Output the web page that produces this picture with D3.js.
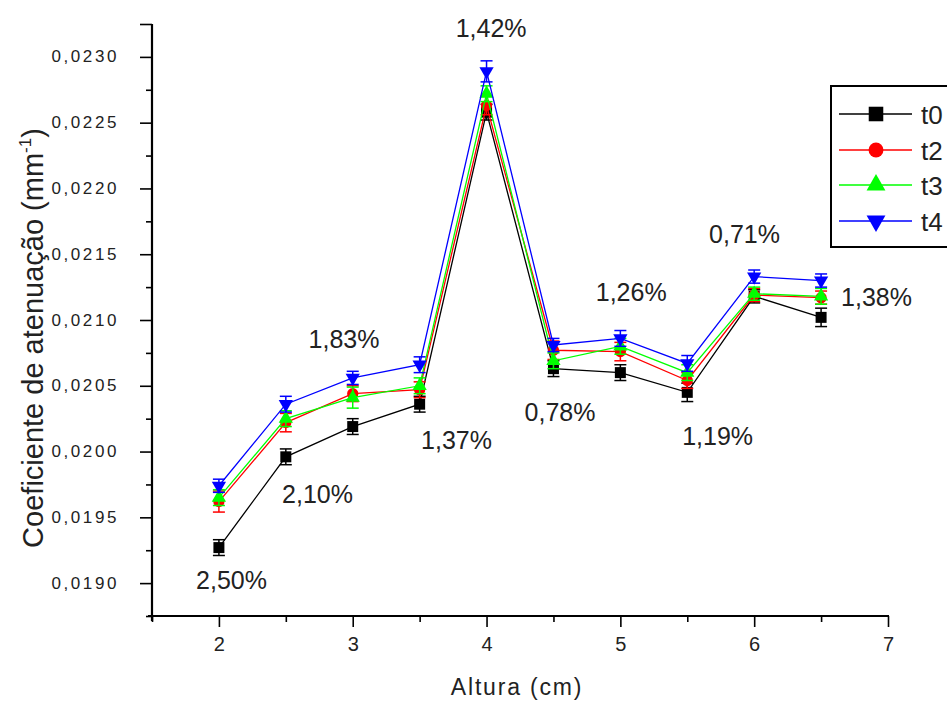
<!DOCTYPE html>
<html>
<head>
<meta charset="utf-8">
<script src="https://cdn.jsdelivr.net/npm/d3@7"></script>
<style>
  html, body { margin: 0; padding: 0; background: #fff; }
  svg { display: block; }
</style>
</head>
<body>
<svg id="chart" width="947" height="705"></svg>
<script>
// ---------- data ----------
const alturas = [2, 2.5, 3, 3.5, 4, 4.5, 5, 5.5, 6, 6.5];
const seriesNames = ["t0", "t2", "t3", "t4"];
const t0 = [0.01927, 0.01996, 0.02019, 0.02036, 0.02258, 0.02063, 0.02060, 0.02045, 0.02118, 0.02102];
const t2 = [0.01962, 0.02022, 0.02044, 0.02047, 0.02263, 0.02077, 0.02076, 0.02054, 0.02119, 0.02117];
const t3 = [0.01965, 0.02025, 0.02041, 0.02050, 0.02272, 0.02069, 0.02080, 0.02060, 0.02120, 0.02118];
const t4 = [0.01974, 0.02036, 0.02056, 0.02066, 0.02289, 0.02081, 0.02086, 0.02067, 0.02133, 0.02130];
const e0 = [0.00006, 0.00006, 0.00006, 0.00006, 0.00006, 0.00006, 0.00006, 0.00007, 0.00005, 0.00007];
const e2 = [0.00008, 0.00007, 0.00006, 0.00006, 0.00007, 0.00007, 0.00007, 0.00006, 0.00005, 0.00005];
const e3 = [0.00006, 0.00006, 0.00008, 0.00006, 0.00006, 0.00006, 0.00006, 0.00006, 0.00005, 0.00006];
const e4 = [0.00005, 0.00006, 0.00005, 0.00006, 0.00008, 0.00005, 0.00006, 0.00006, 0.00005, 0.00005];
const xTickValues = [2, 3, 4, 5, 6, 7];
const xMinorValues = [1.5, 2.5, 3.5, 4.5, 5.5, 6.5];
const yTickValues = [0.0190, 0.0195, 0.0200, 0.0205, 0.0210, 0.0215, 0.0220, 0.0225, 0.0230];
const yMinorValues = [0.01875, 0.01925, 0.01975, 0.02025, 0.02075, 0.02125, 0.02175, 0.02225, 0.02275];
// percentage annotations (text, x in cm, y in mm^-1)
const pctText = ["2,50%", "2,10%", "1,83%", "1,37%", "1,42%", "0,78%", "1,26%", "1,19%", "0,71%", "1,38%"];
const pctX    = [2.094, 2.737, 2.935, 3.776, 4.034, 4.549, 5.081, 5.727, 5.928, 6.914];
const pctY    = [0.018955, 0.019609, 0.020787, 0.020019, 0.023151, 0.020232, 0.021144, 0.02005, 0.021585, 0.021106];

const seriesValues = [t0, t2, t3, t4];
const seriesErrors = [e0, e2, e3, e4];
const colors = ["#000000", "#ff0000", "#00ff00", "#0000ff"];

// ---------- layout ----------
const svg = d3.select("#chart");
const x = d3.scaleLinear().domain([1.5, 7]).range([152, 888]);
const y = d3.scaleLinear().domain([0.01875, 0.02325]).range([616, 24]);
const ptLocale = d3.formatLocale({decimal: ",", thousands: ".", grouping: [3], currency: ["R$", ""]});
const fmtY = ptLocale.format(".4f");

function symbolFor(i, big) {
  const s = big ? 1.75 : 1;
  if (i === 0) return d3.symbol(d3.symbolSquare, 121 * s)();
  if (i === 1) return d3.symbol(d3.symbolCircle, 100 * s)();
  return d3.symbol(d3.symbolTriangle, 88 * s)();
}

// ---------- axes ----------
const gx = svg.append("g").attr("transform", "translate(0,616)");
gx.call(d3.axisBottom(x).tickValues(xTickValues).tickSize(11).tickSizeOuter(0).tickFormat(d3.format("d")).tickPadding(10));
gx.select(".domain").remove();
gx.selectAll(".tick line").attr("stroke", "#000").attr("stroke-width", 1.6);
gx.selectAll(".tick text").attr("font-family", "Liberation Sans, Arial, sans-serif").attr("font-size", 20).attr("fill", "#222");
const gxm = svg.append("g").attr("transform", "translate(0,616)");
gxm.call(d3.axisBottom(x).tickValues(xMinorValues).tickSize(6).tickSizeOuter(0).tickFormat(""));
gxm.select(".domain").remove();
gxm.selectAll(".tick line").attr("stroke", "#000").attr("stroke-width", 1.6);

const gy = svg.append("g").attr("transform", "translate(152,0)");
gy.call(d3.axisLeft(y).tickValues(yTickValues.concat([0.02325])).tickSize(12).tickSizeOuter(0)
  .tickFormat(d => d > 0.0231 ? "" : fmtY(d)).tickPadding(21));
gy.select(".domain").remove();
gy.selectAll(".tick line").attr("stroke", "#000").attr("stroke-width", 1.6);
gy.selectAll(".tick text").attr("font-family", "Liberation Sans, Arial, sans-serif").attr("font-size", 17)
  .attr("letter-spacing", "2.6px").attr("fill", "#222").attr("dy", "0.3em");
const gym = svg.append("g").attr("transform", "translate(152,0)");
gym.call(d3.axisLeft(y).tickValues(yMinorValues).tickSize(6).tickSizeOuter(0).tickFormat(""));
gym.select(".domain").remove();
gym.selectAll(".tick line").attr("stroke", "#000").attr("stroke-width", 1.6);

// axis lines
svg.append("line").attr("x1", 148).attr("x2", x(7) + 1).attr("y1", 616).attr("y2", 616).attr("stroke", "#000").attr("stroke-width", 2.2);
svg.append("line").attr("x1", 152).attr("x2", 152).attr("y1", y(0.02325)).attr("y2", 621).attr("stroke", "#000").attr("stroke-width", 2.2);

// axis titles
svg.append("text").attr("x", 517).attr("y", 695).attr("text-anchor", "middle")
  .attr("font-family", "Liberation Sans, Arial, sans-serif").attr("font-size", 23).attr("letter-spacing", "1.8px")
  .attr("fill", "#222").text("Altura (cm)");
const yt = svg.append("text").attr("transform", "translate(43,338) rotate(-90)").attr("text-anchor", "middle")
  .attr("font-family", "Liberation Sans, Arial, sans-serif").attr("font-size", 29).attr("fill", "#222");
yt.append("tspan").text("Coeficiente de atenuação (mm");
yt.append("tspan").attr("font-size", 17).attr("dy", -12).text("-1");
yt.append("tspan").attr("dy", 12).text(")");

// ---------- series ----------
const line = d3.line().x(d => x(d[0])).y(d => y(d[1]));
seriesValues.forEach((vals, i) => {
  const pts = alturas.map((a, k) => [a, vals[k], seriesErrors[i][k]]);
  const g = svg.append("g");
  g.append("path").datum(pts).attr("d", line).attr("fill", "none").attr("stroke", colors[i]).attr("stroke-width", 1.3);
  const eb = g.selectAll(".eb").data(pts).enter().append("g");
  eb.append("line").attr("x1", d => x(d[0])).attr("x2", d => x(d[0]))
    .attr("y1", d => y(d[1] - d[2])).attr("y2", d => y(d[1] + d[2])).attr("stroke", colors[i]).attr("stroke-width", 1.5);
  [-1, 1].forEach(sgn => {
    eb.append("line").attr("x1", d => x(d[0]) - 6).attr("x2", d => x(d[0]) + 6)
      .attr("y1", d => y(d[1] + sgn * d[2])).attr("y2", d => y(d[1] + sgn * d[2]))
      .attr("stroke", colors[i]).attr("stroke-width", 1.5);
  });
  g.selectAll(".mk").data(pts).enter().append("path")
    .attr("d", symbolFor(i, false))
    .attr("transform", d => `translate(${x(d[0])},${y(d[1])})` + (i === 3 ? " rotate(180)" : ""))
    .attr("fill", colors[i]);
});

// ---------- percentage annotations ----------
svg.append("g").selectAll("text").data(pctText).enter().append("text")
  .attr("x", (d, k) => x(pctX[k])).attr("y", (d, k) => y(pctY[k]))
  .attr("text-anchor", "middle").attr("font-family", "Liberation Sans, Arial, sans-serif")
  .attr("font-size", 25).attr("fill", "#222").text(d => d);

// ---------- legend ----------
const lg = svg.append("g");
lg.append("rect").attr("x", 831).attr("y", 86).attr("width", 130).attr("height", 161)
  .attr("fill", "#fff").attr("stroke", "#000").attr("stroke-width", 2);
const legendY = [114, 150, 185, 221];
seriesNames.forEach((name, i) => {
  const ly = legendY[i];
  lg.append("line").attr("x1", 839).attr("x2", 912).attr("y1", ly).attr("y2", ly).attr("stroke", colors[i]).attr("stroke-width", 1.5);
  lg.append("path").attr("d", symbolFor(i, true))
    .attr("transform", `translate(876,${ly})` + (i === 3 ? " rotate(180)" : ""))
    .attr("fill", colors[i]);
  lg.append("text").attr("x", 921).attr("y", ly + 9.5).attr("font-family", "Liberation Sans, Arial, sans-serif")
    .attr("font-size", 26).attr("fill", "#222").text(name);
});
</script>
</body>
</html>
